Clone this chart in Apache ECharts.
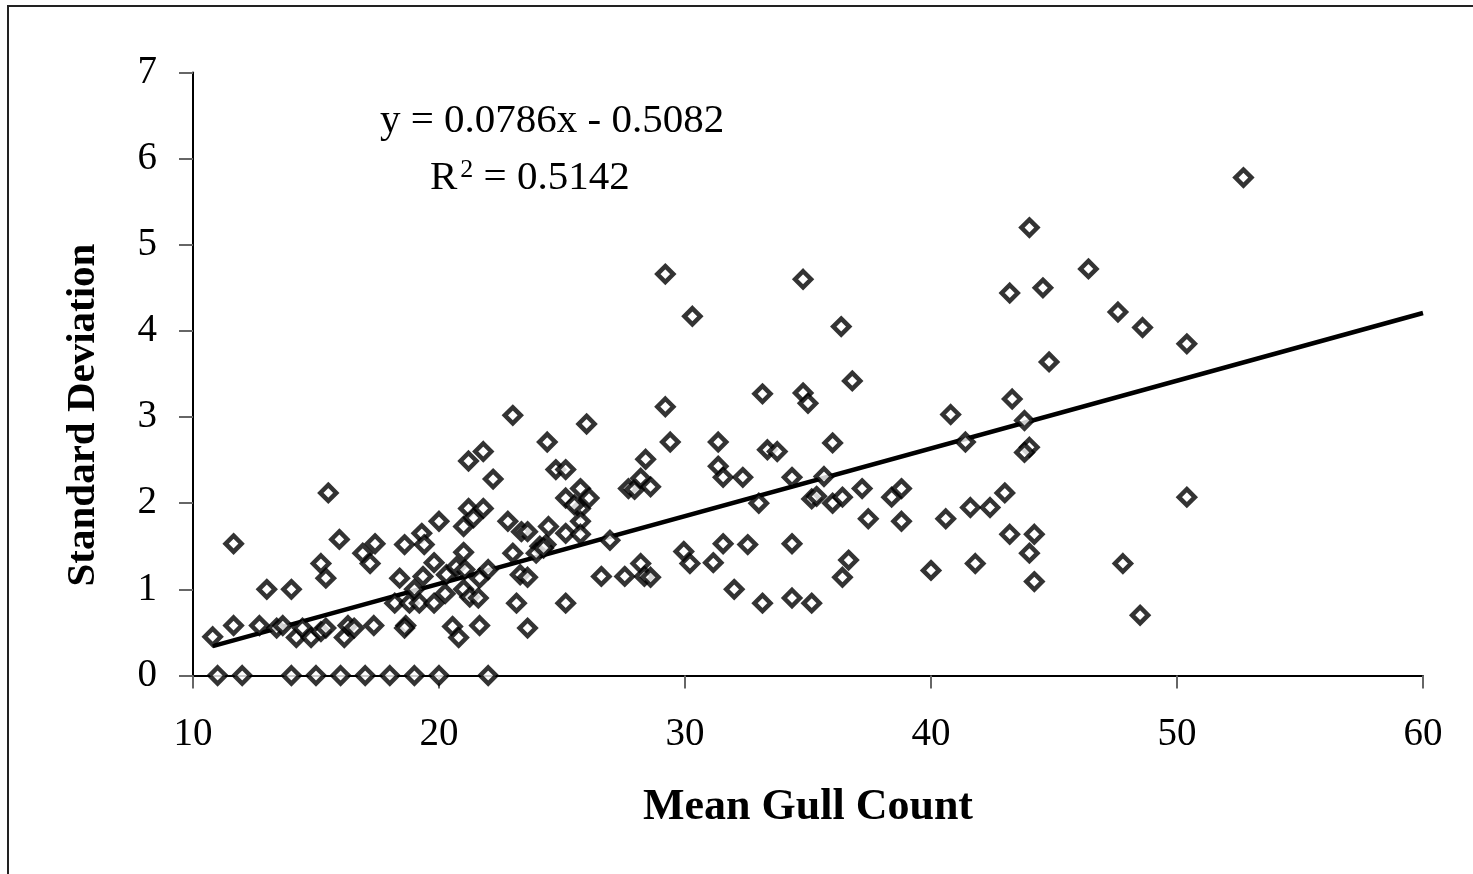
<!DOCTYPE html>
<html>
<head>
<meta charset="utf-8">
<title>Mean Gull Count vs Standard Deviation</title>
<script src="https://cdn.jsdelivr.net/npm/echarts@6/dist/echarts.min.js"></script>
<style>
  html, body { margin: 0; padding: 0; background: #fff; }
  #chart { width: 1473px; height: 874px; }
</style>
</head>
<body>
<div id="chart"></div>
<script>
// mean gull count / standard deviation pairs
const zeroSdCounts = [11, 12, 14, 15, 16, 17, 18, 19, 20, 22]
const meanCount = [
  10.8, 11.65, 11.65, 12.7, 13.0, 13.4, 13.65, 14.0, 14.2, 14.45, 14.8, 15.2, 15.4, 15.2, 15.4, 15.5,
  15.95, 16.15, 16.3, 16.55, 16.9, 17.2, 17.4, 17.35, 18.4, 18.6, 18.65, 18.6, 18.2, 18.8, 19.0, 19.2,
  19.35, 19.3, 19.4, 19.8, 19.8, 20.0, 20.25, 20.3, 20.55, 20.8, 20.7, 21.0, 21.0, 21.05, 21.0, 21.2,
  21.4, 21.8, 21.25, 21.6, 21.65, 21.2, 21.8, 22.2, 21.65, 22.0,
  23.0, 22.8, 23.0, 23.35, 23.6, 23.3, 23.6, 23.15, 23.6, 24.4, 24.45, 24.1, 24.35, 23.95, 24.25, 25.15,
  25.15, 24.75, 25.15, 25.15, 25.75, 26.1, 25.75, 25.75, 25.75, 25.5, 26.0, 26.6, 26.95, 27.55, 28.2, 28.35,
  28.6, 27.7, 27.95, 28.2, 28.4, 28.6, 29.2, 29.4, 29.95, 30.2, 31.15, 31.35, 31.35, 31.55, 31.55, 32.0,
  32.35, 32.55, 33.0, 33.15, 33.35, 33.75, 33.15, 34.35, 34.35, 34.35, 34.8, 35.0, 35.15, 35.15, 35.35,
  36.8, 36.0, 35.65, 36.0, 36.4, 37.2, 37.45, 36.65, 36.4, 38.4, 38.8, 38.8, 40.0, 40.8, 40.6, 41.4,
  41.6, 41.8, 42.4, 43.0, 43.3, 43.8, 44.0, 43.8, 43.2, 44.2, 44.0, 44.2, 47.8, 48.5,
  52.7, 47.6, 48.6, 50.4, 50.4,
  29.2, 30.3, 34.8, 36.35, 44.0, 46.4, 43.2, 44.55, 44.8
]
const stdDev = [
  0.45, 1.53, 0.58, 0.58, 1.0, 0.55, 0.58, 1.0, 0.44, 0.55, 0.44, 0.51, 0.55, 1.3, 1.13, 2.12,
  1.58, 0.44, 0.58, 0.55, 1.42, 1.3, 1.53, 0.58, 1.13, 1.52, 0.58, 0.55, 0.84, 0.84, 1.0, 0.84,
  1.15, 1.65, 1.52, 0.84, 1.31, 1.79, 0.95, 1.17, 0.57, 0.44, 1.26, 1.43, 1.0, 1.23, 1.73, 1.94,
  1.83, 1.94, 0.91, 0.9, 0.58, 2.49, 2.6, 2.28, 1.13, 1.23,
  3.02, 1.79, 1.42, 1.67, 1.67, 1.17, 1.14, 0.84, 0.55, 2.71, 1.73, 1.5, 1.52, 1.42, 1.48, 1.65,
  0.84, 2.39, 2.39, 2.06, 2.17, 2.06, 1.94, 1.79, 1.64, 1.98, 2.92, 1.15, 1.57, 1.15, 1.3, 1.15,
  1.14, 2.17, 2.16, 2.29, 2.51, 2.19, 3.12, 2.71, 1.44, 1.3, 1.31, 2.71, 2.43, 2.3, 1.53, 1.0,
  2.3, 1.52, 2.0, 3.27, 2.62, 2.6, 0.84, 2.3, 1.53, 0.9, 3.28, 3.16, 2.05, 0.84, 2.08,
  3.42, 2.7, 2.31, 2.0, 2.07, 2.17, 1.82, 1.34, 1.14, 2.07, 2.17, 1.79, 1.22, 3.03, 1.82, 2.71,
  1.95, 1.3, 1.95, 2.12, 3.21, 2.96, 2.65, 2.59, 1.64, 1.64, 1.42, 1.09, 1.3, 0.7,
  5.78, 4.22, 4.04, 3.85, 2.07,
  4.66, 4.17, 4.6, 4.05, 5.2, 4.72, 4.44, 4.5, 3.64
]
// linear fit shown on the chart
const slope = 0.0786
const intercept = -0.5082
const rSquared = 0.5142
const trendRange = [10.8, 60]

const xTicks = [10, 20, 30, 40, 50, 60]
const yTicks = [0, 1, 2, 3, 4, 5, 6, 7]

const points = zeroSdCounts.map(x => [x, 0])
for (let i = 0; i < meanCount.length; i++) {
  points.push([meanCount[i], stdDev[i]])
}
const trendData = trendRange.map(x => [x, slope * x + intercept])

const serif = '"Liberation Serif", "Times New Roman", "DejaVu Serif", serif'

const chart = echarts.init(document.getElementById('chart'))
chart.setOption({
  animation: false,
  backgroundColor: '#fff',
  grid: { left: 193, right: 50, top: 72.5, bottom: 198.5 },
  xAxis: {
    type: 'value',
    min: xTicks[0],
    max: xTicks[xTicks.length - 1],
    interval: 10,
    axisLine: { lineStyle: { color: '#000', width: 2 } },
    axisTick: { inside: false, length: 13, lineStyle: { color: '#666', width: 2 } },
    axisLabel: { margin: 40, color: '#000', fontFamily: serif, fontSize: 39 },
    splitLine: { show: false }
  },
  yAxis: {
    type: 'value',
    min: yTicks[0],
    max: yTicks[yTicks.length - 1],
    interval: 1,
    axisLine: { onZero: false, lineStyle: { color: '#000', width: 2 } },
    axisTick: { inside: false, length: 14, lineStyle: { color: '#666', width: 2 } },
    axisLabel: { margin: 36, color: '#000', fontFamily: serif, fontSize: 39 },
    splitLine: { show: false }
  },
  series: [
    {
      name: 'trend',
      type: 'line',
      data: trendData,
      showSymbol: false,
      lineStyle: { color: '#000', width: 4.5 },
      z: 2
    },
    {
      name: 'gulls',
      type: 'scatter',
      data: points,
      symbol: 'path://M0,-1L1,0L0,1L-1,0Z',
      symbolSize: [16, 16],
      itemStyle: { color: '#fff', borderColor: '#000', borderWidth: 4.5 },
      z: 3
    }
  ],
  graphic: [
    {
      type: 'rect',
      shape: { x: 8, y: 6, width: 1500, height: 900 },
      style: { fill: 'none', stroke: '#222', lineWidth: 2 },
      silent: true
    },
    {
      type: 'text',
      x: 83,
      y: 415,
      rotation: Math.PI / 2,
      style: {
        text: 'Standard Deviation',
        fontFamily: serif,
        fontWeight: 'bold',
        fontSize: 41,
        fill: '#000',
        align: 'center',
        verticalAlign: 'middle'
      }
    },
    {
      type: 'text',
      x: 808,
      y: 808,
      style: {
        text: 'Mean Gull Count',
        fontFamily: serif,
        fontWeight: 'bold',
        fontSize: 44,
        fill: '#000',
        align: 'center',
        verticalAlign: 'middle'
      }
    },
    {
      type: 'text',
      x: 380,
      y: 121,
      style: {
        text: 'y = ' + slope + 'x - ' + Math.abs(intercept),
        fontFamily: serif,
        fontSize: 41,
        fill: '#000',
        align: 'left',
        verticalAlign: 'middle'
      }
    },
    {
      type: 'text',
      x: 430,
      y: 178,
      style: {
        text: 'R{sup|2} = ' + rSquared,
        fontFamily: serif,
        fontSize: 41,
        fill: '#000',
        align: 'left',
        verticalAlign: 'middle',
        rich: {
          sup: { fontFamily: serif, fontSize: 26, verticalAlign: 'top', padding: [0, 0, 16, 3] }
        }
      }
    }
  ]
})
</script>
</body>
</html>
